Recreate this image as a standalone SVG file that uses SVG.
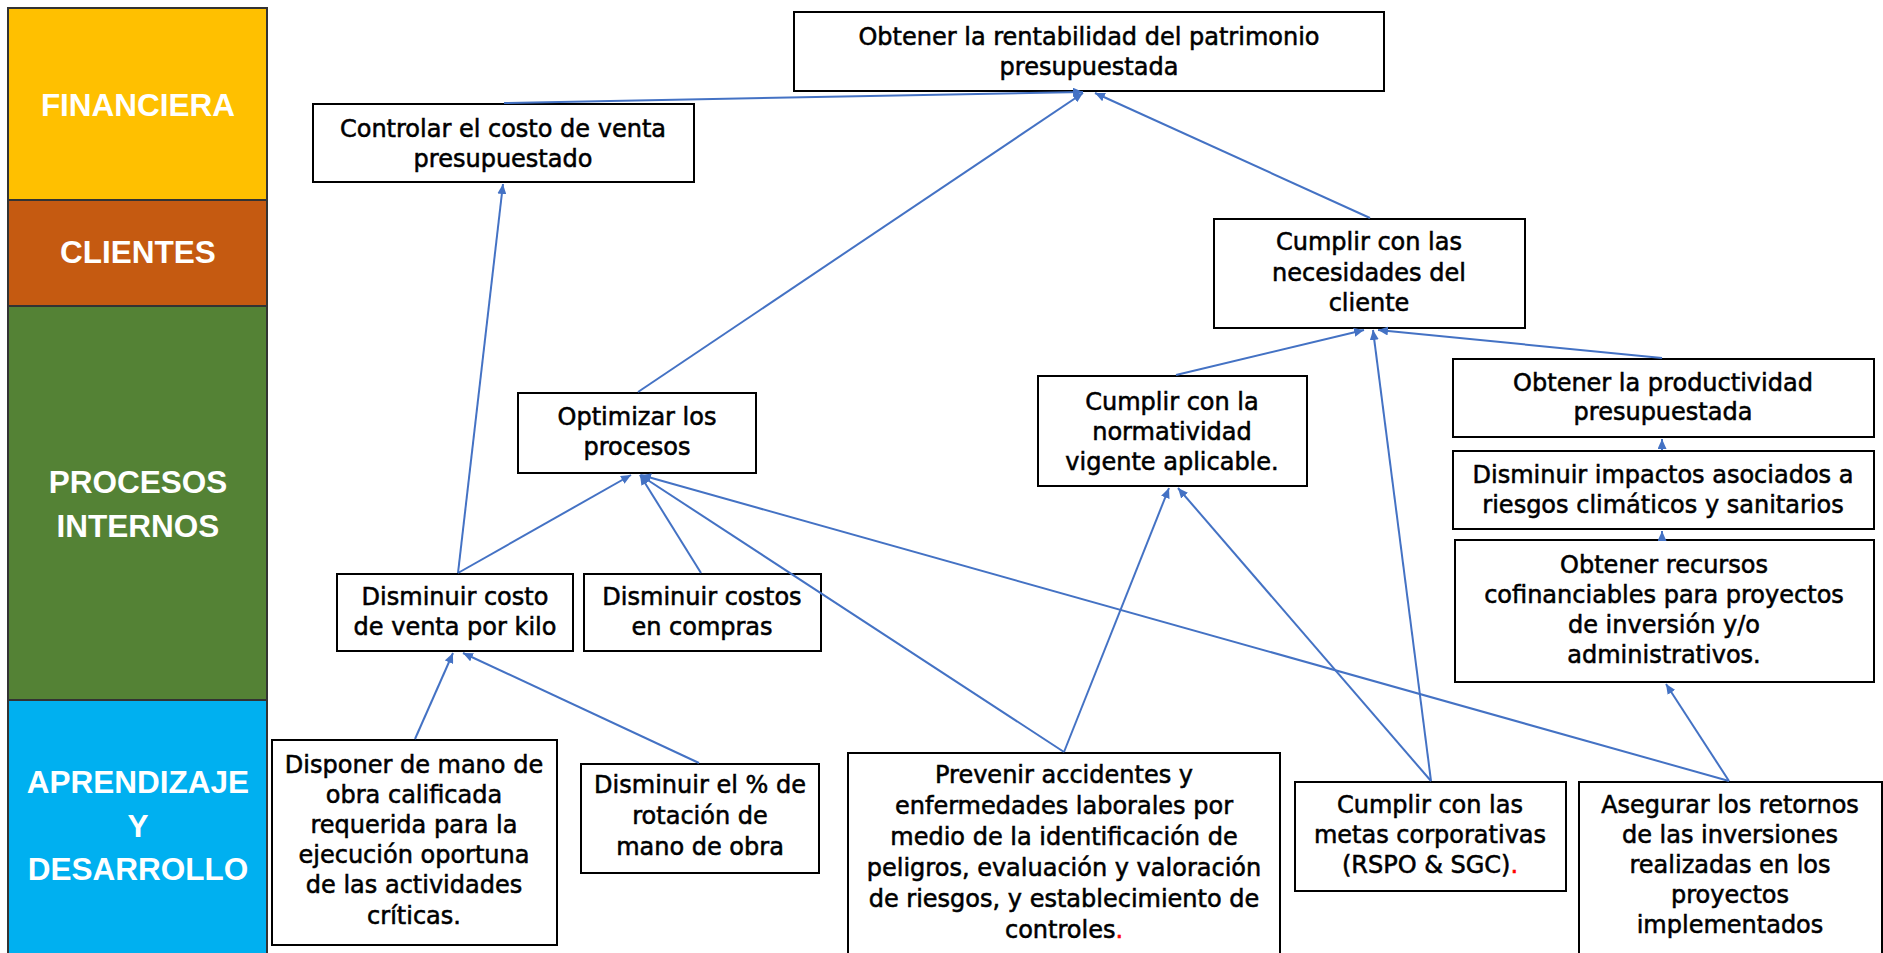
<svg xmlns="http://www.w3.org/2000/svg" width="1883" height="953" viewBox="0 0 1883 953">
<style>
.box{fill:#fff;stroke:#000;stroke-width:2}
.t{font-family:"DejaVu Sans",sans-serif;font-size:24px;fill:#000;text-anchor:middle;stroke:#000;stroke-width:0.55}
.lab{font-family:"Liberation Sans",Arial,sans-serif;font-weight:bold;font-size:31.5px;fill:#fff;text-anchor:middle}
.sec{stroke:#333;stroke-width:2}
.c{fill:none;stroke:#4472C4;stroke-width:2;marker-end:url(#ah)}
.red{fill:#FF0000;stroke:#FF0000}
</style>
<defs>
<marker id="ah" viewBox="0 0 10 9" refX="10" refY="4.5" markerWidth="10" markerHeight="9" orient="auto" markerUnits="userSpaceOnUse">
<path d="M0,0 L10,4.5 L0,9 z" fill="#4472C4"/>
</marker>
</defs>
<rect width="1883" height="953" fill="#fff"/>

<g id="lane-financiera"><rect class="sec" x="8" y="8" width="259" height="192" fill="#FFC000"/><text class="lab" x="138" y="116">FINANCIERA</text></g>
<g id="lane-clientes"><rect class="sec" x="8" y="200" width="259" height="106" fill="#C55A11"/><text class="lab" x="138" y="263">CLIENTES</text></g>
<g id="lane-procesos"><rect class="sec" x="8" y="306" width="259" height="394" fill="#548235"/><text class="lab" x="138" y="493">PROCESOS</text><text class="lab" x="138" y="537">INTERNOS</text></g>
<g id="lane-aprendizaje"><rect class="sec" x="8" y="700" width="259" height="260" fill="#00B0F0"/><text class="lab" x="138" y="793">APRENDIZAJE</text><text class="lab" x="138" y="837">Y</text><text class="lab" x="138" y="880">DESARROLLO</text></g>

<g id="n-rentabilidad"><rect class="box" x="794" y="12" width="590" height="79"/><text class="t" x="1089" y="45">Obtener la rentabilidad del patrimonio</text><text class="t" x="1089" y="75">presupuestada</text></g>
<g id="n-controlar"><rect class="box" x="313" y="104" width="381" height="78"/><text class="t" x="503" y="137">Controlar el costo de venta</text><text class="t" x="503" y="167">presupuestado</text></g>
<g id="n-necesidades"><rect class="box" x="1214" y="219" width="311" height="109"/><text class="t" x="1369" y="250">Cumplir con las</text><text class="t" x="1369" y="281">necesidades del</text><text class="t" x="1369" y="311">cliente</text></g>
<g id="n-optimizar"><rect class="box" x="518" y="393" width="238" height="80"/><text class="t" x="637" y="425">Optimizar los</text><text class="t" x="637" y="455">procesos</text></g>
<g id="n-normatividad"><rect class="box" x="1038" y="376" width="269" height="110"/><text class="t" x="1172" y="410">Cumplir con la</text><text class="t" x="1172" y="440">normatividad</text><text class="t" x="1172" y="470">vigente aplicable.</text></g>
<g id="n-productividad"><rect class="box" x="1453" y="359" width="421" height="78"/><text class="t" x="1663" y="391">Obtener la productividad</text><text class="t" x="1663" y="420">presupuestada</text></g>
<g id="n-impactos"><rect class="box" x="1453" y="451" width="421" height="78"/><text class="t" x="1663" y="483">Disminuir impactos asociados a</text><text class="t" x="1663" y="513">riesgos climáticos y sanitarios</text></g>
<g id="n-recursos"><rect class="box" x="1455" y="540" width="419" height="142"/><text class="t" x="1664" y="573">Obtener recursos</text><text class="t" x="1664" y="603">cofinanciables para proyectos</text><text class="t" x="1664" y="633">de inversión y/o</text><text class="t" x="1664" y="663">administrativos.</text></g>
<g id="n-kilo"><rect class="box" x="337" y="574" width="236" height="77"/><text class="t" x="455" y="605">Disminuir costo</text><text class="t" x="455" y="635">de venta por kilo</text></g>
<g id="n-compras"><rect class="box" x="584" y="574" width="237" height="77"/><text class="t" x="702" y="605">Disminuir costos</text><text class="t" x="702" y="635">en compras</text></g>
<g id="n-disponer"><rect class="box" x="272" y="740" width="285" height="205"/><text class="t" x="414" y="773">Disponer de mano de</text><text class="t" x="414" y="803">obra calificada</text><text class="t" x="414" y="833">requerida para la</text><text class="t" x="414" y="863">ejecución oportuna</text><text class="t" x="414" y="893">de las actividades</text><text class="t" x="414" y="924">críticas.</text></g>
<g id="n-rotacion"><rect class="box" x="581" y="764" width="238" height="109"/><text class="t" x="700" y="793">Disminuir el % de</text><text class="t" x="700" y="824">rotación de</text><text class="t" x="700" y="855">mano de obra</text></g>
<g id="n-prevenir"><rect class="box" x="848" y="753" width="432" height="210"/><text class="t" x="1064" y="783">Prevenir accidentes y</text><text class="t" x="1064" y="814">enfermedades laborales por</text><text class="t" x="1064" y="845">medio de la identificación de</text><text class="t" x="1064" y="876">peligros, evaluación y valoración</text><text class="t" x="1064" y="907">de riesgos, y establecimiento de</text><text class="t" x="1064" y="938">controles<tspan class="red">.</tspan></text></g>
<g id="n-metas"><rect class="box" x="1295" y="782" width="271" height="109"/><text class="t" x="1430" y="813">Cumplir con las</text><text class="t" x="1430" y="843">metas corporativas</text><text class="t" x="1430" y="873">(RSPO &amp; SGC)<tspan class="red">.</tspan></text></g>
<g id="n-asegurar"><rect class="box" x="1579" y="782" width="303" height="180"/><text class="t" x="1730" y="813">Asegurar los retornos</text><text class="t" x="1730" y="843">de las inversiones</text><text class="t" x="1730" y="873">realizadas en los</text><text class="t" x="1730" y="903">proyectos</text><text class="t" x="1730" y="933">implementados</text></g>

<g id="connectors">
<line class="c" x1="504" y1="103" x2="1083" y2="92"/>
<line class="c" x1="638" y1="392" x2="1083" y2="93"/>
<line class="c" x1="1370" y1="218" x2="1095" y2="93"/>
<line class="c" x1="458" y1="573" x2="503" y2="184"/>
<line class="c" x1="458" y1="573" x2="631" y2="475"/>
<line class="c" x1="701" y1="573" x2="640" y2="475"/>
<line class="c" x1="1064" y1="752" x2="640" y2="475"/>
<line class="c" x1="1729" y1="781" x2="641" y2="475"/>
<line class="c" x1="415" y1="739" x2="453" y2="653"/>
<line class="c" x1="699" y1="763" x2="463" y2="653"/>
<line class="c" x1="1064" y1="752" x2="1169" y2="488"/>
<line class="c" x1="1431" y1="781" x2="1178" y2="488"/>
<line class="c" x1="1431" y1="781" x2="1373" y2="330"/>
<line class="c" x1="1176" y1="375" x2="1364" y2="330"/>
<line class="c" x1="1662" y1="358" x2="1378" y2="330"/>
<line class="c" x1="1662" y1="450" x2="1662" y2="439"/>
<line class="c" x1="1662" y1="539" x2="1662" y2="531"/>
<line class="c" x1="1729" y1="781" x2="1666" y2="684"/>
</g>
</svg>
